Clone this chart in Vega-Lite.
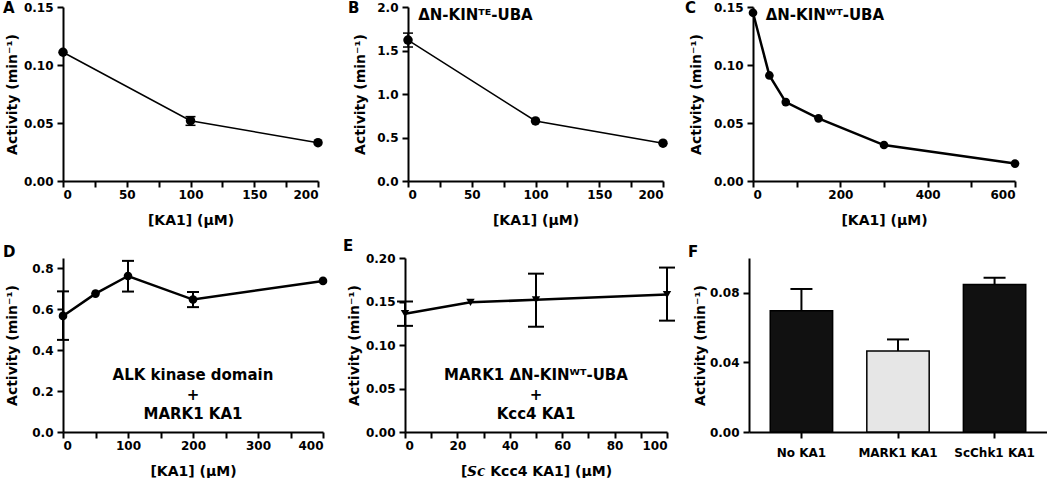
{
  "$schema": "https://vega.github.io/schema/vega-lite/v6.json",
  "background": "white",
  "padding": {"left": 3, "top": 1, "right": 0, "bottom": 0},
  "spacing": 12,
  "config": {
    "font": "DejaVu Sans",
    "view": {"stroke": null},
    "axis": {"domainColor": "black", "domainWidth": 2, "tickColor": "black", "tickWidth": 2, "tickSize": 6, "labelFont": "DejaVu Sans", "labelFontWeight": "bold", "labelFontSize": 12, "labelColor": "black", "titleFont": "DejaVu Sans", "titleFontWeight": "bold", "titleColor": "black", "grid": false, "labelPadding": 2, "labelOverlap": false},
    "axisX": {"titleFontSize": 14, "titlePadding": 13},
    "axisY": {"titleFontSize": 14, "labelPadding": 4, "minExtent": 39, "maxExtent": 39, "titlePadding": 5},
    "title": {"anchor": "start", "frame": "group", "fontSize": 15, "fontWeight": "bold", "color": "black", "baseline": "middle", "offset": 0, "font": "DejaVu Sans"},
    "text": {"font": "DejaVu Sans", "fontWeight": "bold", "fontSize": 15, "color": "black"}
  },
  "vconcat": [
    {
      "hconcat": [
        {
          "width": 255, "height": 174,
          "title": {"text": "A", "dx": -60, "dy": 19},
          "encoding": {"x": {"field": "x", "type": "quantitative", "scale": {"domain": [0, 200], "nice": false}, "axis": {"title": "[KA1] (µM)", "values": [0,25,50,75,100,125,150,175,200], "labelExpr": "datum.value % 50 == 0 ? datum.label : ''"}}},
          "layer": [
            {"data": {"values": [{"x": 0, "y": 0.111}, {"x": 100, "y": 0.052}, {"x": 200, "y": 0.033}]},
             "mark": {"type": "line", "color": "black", "strokeWidth": 1.5},
             "encoding": {"y": {"field": "y", "type": "quantitative", "scale": {"domain": [0, 0.15], "nice": false}, "axis": {"title": "Activity (min⁻¹)", "values": [0,0.025,0.05,0.075,0.1,0.125,0.15], "labelExpr": "round(datum.value*1000) % 50 == 0 ? format(datum.value, '.2f') : ''"}}}},
            {"data": {"values": [{"x": 100, "lo": 0.048, "hi": 0.0555}]},
             "mark": {"type": "rule", "color": "black", "strokeWidth": 1.5},
             "encoding": {"y": {"field": "lo", "type": "quantitative"}, "y2": {"field": "hi"}}},
            {"data": {"values": [{"x": 100, "lo": 0.048, "hi": 0.0555}]},
             "mark": {"type": "tick", "orient": "horizontal", "color": "black", "size": 10, "thickness": 1.5, "opacity": 1},
             "encoding": {"y": {"field": "lo", "type": "quantitative"}}},
            {"data": {"values": [{"x": 100, "lo": 0.048, "hi": 0.0555}]},
             "mark": {"type": "tick", "orient": "horizontal", "color": "black", "size": 10, "thickness": 1.5, "opacity": 1},
             "encoding": {"y": {"field": "hi", "type": "quantitative"}}},
            {"data": {"values": [{"x": 0, "y": 0.111}, {"x": 100, "y": 0.052}, {"x": 200, "y": 0.033}]},
             "mark": {"type": "point", "filled": true, "color": "black", "size": 90, "opacity": 1},
             "encoding": {"y": {"field": "y", "type": "quantitative"}}}
          ]
        },
        {
          "width": 255, "height": 174,
          "title": {"text": "B", "dx": -60, "dy": 19},
          "encoding": {"x": {"field": "x", "type": "quantitative", "scale": {"domain": [0, 200], "nice": false}, "axis": {"title": "[KA1] (µM)", "values": [0,25,50,75,100,125,150,175,200], "labelExpr": "datum.value % 50 == 0 ? datum.label : ''"}}},
          "layer": [
            {"data": {"values": [{"x": 0, "y": 1.62}, {"x": 100, "y": 0.69}, {"x": 200, "y": 0.435}]},
             "mark": {"type": "line", "color": "black", "strokeWidth": 1.5},
             "encoding": {"y": {"field": "y", "type": "quantitative", "scale": {"domain": [0, 2], "nice": false}, "axis": {"title": "Activity (min⁻¹)", "values": [0,0.25,0.5,0.75,1,1.25,1.5,1.75,2], "labelExpr": "round(datum.value*100) % 50 == 0 ? format(datum.value, '.1f') : ''", "minExtent": 36, "maxExtent": 36}}}},
            {"data": {"values": [{"x": 0, "lo": 1.54, "hi": 1.70}]},
             "mark": {"type": "rule", "color": "black", "strokeWidth": 1.5},
             "encoding": {"y": {"field": "lo", "type": "quantitative"}, "y2": {"field": "hi"}}},
            {"data": {"values": [{"x": 0, "lo": 1.54, "hi": 1.70}]},
             "mark": {"type": "tick", "orient": "horizontal", "color": "black", "size": 10, "thickness": 1.5, "opacity": 1},
             "encoding": {"y": {"field": "lo", "type": "quantitative"}}},
            {"data": {"values": [{"x": 0, "lo": 1.54, "hi": 1.70}]},
             "mark": {"type": "tick", "orient": "horizontal", "color": "black", "size": 10, "thickness": 1.5, "opacity": 1},
             "encoding": {"y": {"field": "hi", "type": "quantitative"}}},
            {"data": {"values": [{"x": 0, "y": 1.62}, {"x": 100, "y": 0.69}, {"x": 200, "y": 0.435}]},
             "mark": {"type": "point", "filled": true, "color": "black", "size": 90, "opacity": 1},
             "encoding": {"y": {"field": "y", "type": "quantitative"}}},
            {"data": {"values": [{"tx": 8, "ty": 1.91, "label": "ΔN-KINᵀᴱ-UBA"}]},
             "mark": {"type": "text", "align": "left", "baseline": "middle"},
             "encoding": {"x": {"field": "tx", "type": "quantitative"}, "y": {"field": "ty", "type": "quantitative"}, "text": {"field": "label", "type": "nominal"}}}
          ]
        },
        {
          "width": 262, "height": 174,
          "title": {"text": "C", "dx": -68, "dy": 19},
          "encoding": {"x": {"field": "x", "type": "quantitative", "scale": {"domain": [0, 600], "nice": false}, "axis": {"title": "[KA1] (µM)", "values": [0,100,200,300,400,500,600], "labelExpr": "datum.value % 200 == 0 ? datum.label : ''"}}},
          "layer": [
            {"data": {"values": [{"x": 0, "y": 0.145}, {"x": 37.5, "y": 0.091}, {"x": 75, "y": 0.068}, {"x": 150, "y": 0.054}, {"x": 300, "y": 0.031}, {"x": 600, "y": 0.015}]},
             "mark": {"type": "line", "color": "black", "strokeWidth": 2.5},
             "encoding": {"y": {"field": "y", "type": "quantitative", "scale": {"domain": [0, 0.15], "nice": false}, "axis": {"title": "Activity (min⁻¹)", "values": [0,0.025,0.05,0.075,0.1,0.125,0.15], "labelExpr": "round(datum.value*1000) % 50 == 0 ? format(datum.value, '.2f') : ''", "titlePadding": 11}}}},
            {"data": {"values": [{"x": 0, "y": 0.145}, {"x": 37.5, "y": 0.091}, {"x": 75, "y": 0.068}, {"x": 150, "y": 0.054}, {"x": 300, "y": 0.031}, {"x": 600, "y": 0.015}]},
             "mark": {"type": "point", "filled": true, "color": "black", "size": 75, "opacity": 1},
             "encoding": {"y": {"field": "y", "type": "quantitative"}}},
            {"data": {"values": [{"tx": 29, "ty": 0.143, "label": "ΔN-KINᵂᵀ-UBA"}]},
             "mark": {"type": "text", "align": "left", "baseline": "middle"},
             "encoding": {"x": {"field": "tx", "type": "quantitative"}, "y": {"field": "ty", "type": "quantitative"}, "text": {"field": "label", "type": "nominal"}}}
          ]
        }
      ],
      "spacing": 90,
      "bounds": "flush"
    },
    {
      "hconcat": [
        {
          "width": 260, "height": 174,
          "title": {"text": "D", "dx": -60, "dy": 6},
          "encoding": {"x": {"field": "x", "type": "quantitative", "scale": {"domain": [0, 400], "nice": false}, "axis": {"title": "[KA1] (µM)", "values": [0,50,100,150,200,250,300,350,400], "labelExpr": "datum.value % 100 == 0 ? datum.label : ''"}}},
          "layer": [
            {"data": {"values": [{"x": 0, "y": 0.567}, {"x": 50, "y": 0.676}, {"x": 100, "y": 0.762}, {"x": 200, "y": 0.647}, {"x": 400, "y": 0.738}]},
             "mark": {"type": "line", "color": "black", "strokeWidth": 2.5},
             "encoding": {"y": {"field": "y", "type": "quantitative", "scale": {"domain": [0, 0.85], "nice": false}, "axis": {"title": "Activity (min⁻¹)", "values": [0,0.1,0.2,0.3,0.4,0.5,0.6,0.7,0.8], "labelExpr": "round(datum.value*10) % 2 == 0 ? format(datum.value, '.1f') : ''"}}}},
            {"data": {"values": [{"x": 0, "lo": 0.45, "hi": 0.687}, {"x": 100, "lo": 0.686, "hi": 0.836}, {"x": 200, "lo": 0.61, "hi": 0.684}]},
             "mark": {"type": "rule", "color": "black", "strokeWidth": 2},
             "encoding": {"y": {"field": "lo", "type": "quantitative"}, "y2": {"field": "hi"}}},
            {"data": {"values": [{"x": 0, "lo": 0.45, "hi": 0.687}, {"x": 100, "lo": 0.686, "hi": 0.836}, {"x": 200, "lo": 0.61, "hi": 0.684}]},
             "mark": {"type": "tick", "orient": "horizontal", "color": "black", "size": 12, "thickness": 2, "opacity": 1},
             "encoding": {"y": {"field": "lo", "type": "quantitative"}}},
            {"data": {"values": [{"x": 0, "lo": 0.45, "hi": 0.687}, {"x": 100, "lo": 0.686, "hi": 0.836}, {"x": 200, "lo": 0.61, "hi": 0.684}]},
             "mark": {"type": "tick", "orient": "horizontal", "color": "black", "size": 12, "thickness": 2, "opacity": 1},
             "encoding": {"y": {"field": "hi", "type": "quantitative"}}},
            {"data": {"values": [{"x": 0, "y": 0.567}, {"x": 50, "y": 0.676}, {"x": 100, "y": 0.762}, {"x": 200, "y": 0.647}, {"x": 400, "y": 0.738}]},
             "mark": {"type": "point", "filled": true, "color": "black", "size": 75, "opacity": 1},
             "encoding": {"y": {"field": "y", "type": "quantitative"}}},
            {"data": {"values": [{"tx": 200, "ty": 0.278, "label": ["ALK kinase domain", "+", "MARK1 KA1"]}]},
             "mark": {"type": "text", "align": "center", "baseline": "middle", "lineHeight": 19.5},
             "encoding": {"x": {"field": "tx", "type": "quantitative"}, "y": {"field": "ty", "type": "quantitative"}, "text": {"field": "label", "type": "nominal"}}}
          ]
        },
        {
          "width": 262, "height": 174,
          "title": {"text": "E", "dx": -62, "dy": 6},
          "encoding": {"x": {"field": "x", "type": "quantitative", "scale": {"domain": [0, 100], "nice": false}, "axis": {"title": "[𝙎𝙘 Kcc4 KA1] (µM)", "values": [0,10,20,30,40,50,60,70,80,90,100], "labelExpr": "datum.value % 20 == 0 ? datum.label : ''"}}},
          "layer": [
            {"data": {"values": [{"x": 0, "y": 0.136}, {"x": 25, "y": 0.149}, {"x": 50, "y": 0.152}, {"x": 100, "y": 0.158}]},
             "mark": {"type": "line", "color": "black", "strokeWidth": 2.5},
             "encoding": {"y": {"field": "y", "type": "quantitative", "scale": {"domain": [0, 0.2], "nice": false}, "axis": {"title": "Activity (min⁻¹)", "values": [0,0.025,0.05,0.075,0.1,0.125,0.15,0.175,0.2], "labelExpr": "round(datum.value*1000) % 50 == 0 ? format(datum.value, '.2f') : ''"}}}},
            {"data": {"values": [{"x": 0, "lo": 0.122, "hi": 0.150}, {"x": 50, "lo": 0.121, "hi": 0.182}, {"x": 100, "lo": 0.128, "hi": 0.189}]},
             "mark": {"type": "rule", "color": "black", "strokeWidth": 2},
             "encoding": {"y": {"field": "lo", "type": "quantitative"}, "y2": {"field": "hi"}}},
            {"data": {"values": [{"x": 0, "lo": 0.122, "hi": 0.150}, {"x": 50, "lo": 0.121, "hi": 0.182}, {"x": 100, "lo": 0.128, "hi": 0.189}]},
             "mark": {"type": "tick", "orient": "horizontal", "color": "black", "size": 16, "thickness": 2, "opacity": 1},
             "encoding": {"y": {"field": "lo", "type": "quantitative"}}},
            {"data": {"values": [{"x": 0, "lo": 0.122, "hi": 0.150}, {"x": 50, "lo": 0.121, "hi": 0.182}, {"x": 100, "lo": 0.128, "hi": 0.189}]},
             "mark": {"type": "tick", "orient": "horizontal", "color": "black", "size": 16, "thickness": 2, "opacity": 1},
             "encoding": {"y": {"field": "hi", "type": "quantitative"}}},
            {"data": {"values": [{"x": 0, "y": 0.136}, {"x": 25, "y": 0.149}, {"x": 50, "y": 0.152}, {"x": 100, "y": 0.158}]},
             "mark": {"type": "point", "filled": true, "shape": "triangle-down", "color": "black", "size": 70, "opacity": 1},
             "encoding": {"y": {"field": "y", "type": "quantitative"}}},
            {"data": {"values": [{"tx": 50, "ty": 0.0655, "label": ["MARK1 ΔN-KINᵂᵀ-UBA", "+", "Kcc4 KA1"]}]},
             "mark": {"type": "text", "align": "center", "baseline": "middle", "lineHeight": 19.5},
             "encoding": {"x": {"field": "tx", "type": "quantitative"}, "y": {"field": "ty", "type": "quantitative"}, "text": {"field": "label", "type": "nominal"}}}
          ]
        },
        {
          "width": 298, "height": 174,
          "title": {"text": "F", "dx": -61, "dy": 6},
          "data": {"values": [{"cond": "No KA1", "y": 0.0697, "hi": 0.0822}, {"cond": "MARK1 KA1", "y": 0.0466, "hi": 0.0532}, {"cond": "ScChk1 KA1", "y": 0.0848, "hi": 0.0886}]},
          "encoding": {"x": {"field": "cond", "type": "nominal", "sort": null, "scale": {"paddingInner": 0.354, "paddingOuter": 0.22}, "axis": {"title": null, "labelAngle": 0, "labelPadding": 9}}},
          "layer": [
            {"mark": {"type": "bar", "stroke": "black", "strokeWidth": 1.5},
             "encoding": {"y": {"field": "y", "type": "quantitative", "stack": null, "scale": {"domain": [0, 0.1], "nice": false}, "axis": {"title": "Activity (min⁻¹)", "values": [0,0.02,0.04,0.06,0.08,0.1], "format": ".2f", "labelOverlap": false, "titlePadding": 3}},
                          "color": {"field": "cond", "type": "nominal", "scale": {"domain": ["No KA1", "MARK1 KA1", "ScChk1 KA1"], "range": ["#111111", "#e6e6e6", "#111111"]}, "legend": null}}},
            {"mark": {"type": "rule", "color": "black", "strokeWidth": 2},
             "encoding": {"y": {"field": "y", "type": "quantitative"}, "y2": {"field": "hi"}}},
            {"mark": {"type": "tick", "orient": "horizontal", "color": "black", "size": 22, "thickness": 2, "opacity": 1},
             "encoding": {"y": {"field": "hi", "type": "quantitative"}}}
          ]
        }
      ],
      "spacing": 82,
      "bounds": "flush"
    }
  ]
}
